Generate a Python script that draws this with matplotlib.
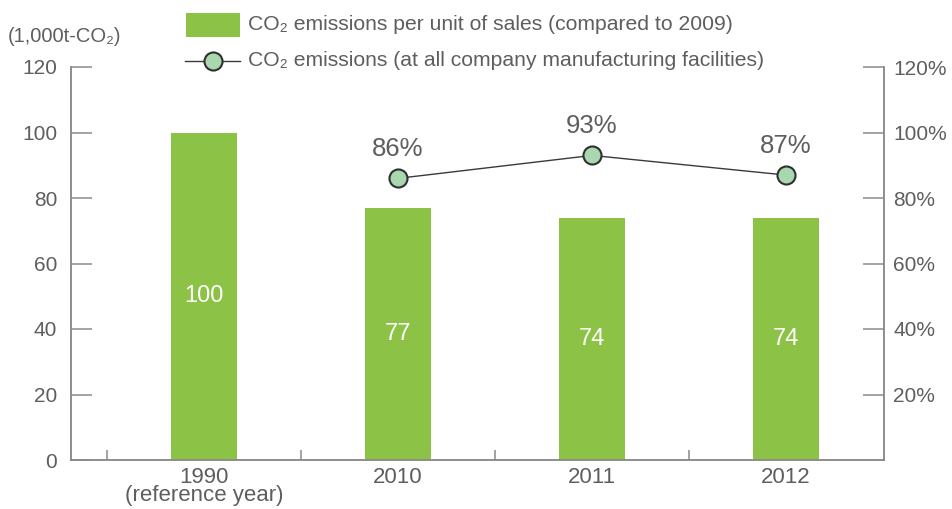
import matplotlib.pyplot as plt
from matplotlib.patches import Rectangle
from matplotlib.lines import Line2D

plt.rcParams['font.family'] = ['Liberation Sans', 'DejaVu Sans']

years = ["1990\n(reference year)", "2010", "2011", "2012"]
per_sales = [100, 77, 74, 74]
line_years = [1, 2, 3]
emissions_pct = [86, 93, 87]
left_ticks = [0, 20, 40, 60, 80, 100, 120]
right_ticks = [20, 40, 60, 80, 100, 120]

green = "#8cc346"
txt = "#5e5e5e"
axc = "#8a8a8a"

W, H = 953, 509
fig = plt.figure(figsize=(W / 100, H / 100), dpi=100)
ax = fig.add_axes([71 / W, 1 - 460 / H, (884 - 71) / W, (460 - 67) / H])
ax2 = ax.twinx()

x = list(range(len(years)))
ax.bar(x, per_sales, width=0.34, color=green, zorder=2)
for xi, v in zip(x, per_sales):
    ax.text(xi, v / 2, str(v), color="white", fontsize=17, ha="center", va="center", zorder=3)

ax2.plot(line_years, emissions_pct, color="#3a3a3a", lw=1.0, marker="o", ms=13,
         mfc="#a9d7b0", mec="#2f2f2f", mew=1.5, zorder=4)
for xi, v in zip(line_years, emissions_pct):
    ax2.annotate(f"{v}%", (xi, v), xytext=(0, 16), textcoords="offset points",
                 ha="center", va="baseline", fontsize=18.5, color=txt)

for a in (ax, ax2):
    a.set_xlim(-0.686, 3.505)
    a.set_ylim(0, 120)
    a.spines["top"].set_visible(False)
    for s in ("left", "right", "bottom"):
        a.spines[s].set_color(axc)
        a.spines[s].set_linewidth(1.1)

ax.set_yticks(left_ticks)
ax.tick_params(axis="y", direction="in", length=15, width=1.1, color=axc,
               labelsize=15, labelcolor=txt, pad=10)
ax2.set_yticks(right_ticks)
ax2.set_yticklabels([f"{t}%" for t in right_ticks])
ax2.tick_params(axis="y", direction="in", length=15, width=1.1, color=axc,
                labelsize=15, labelcolor=txt, pad=6.5)

ax.set_xticks(x)
ax.set_xticklabels(years, linespacing=0.82)
ax.set_xticks([i - 0.5 for i in x], minor=True)
ax.tick_params(axis="x", which="major", length=0, labelsize=16, labelcolor=txt, pad=5)
ax.tick_params(axis="x", which="minor", direction="in", length=7, width=1.1, color=axc)

fig.text(8 / W, 1 - 36 / H, "(1,000t-CO₂)", fontsize=14.5, color=txt, va="center", ha="left")

# legend
fig.add_artist(Rectangle((186 / W, 1 - 37 / H), 54 / W, 24 / H, transform=fig.transFigure,
                         facecolor=green, edgecolor="none"))
fig.add_artist(Line2D([185 / W, 240 / W], [1 - 61 / H, 1 - 61 / H], transform=fig.transFigure,
                      color="#3a3a3a", lw=1.0))
fig.add_artist(Line2D([213 / W], [1 - 61 / H], transform=fig.transFigure, marker="o", ms=13,
                      mfc="#a9d7b0", mec="#2f2f2f", mew=1.5))
fig.text(248 / W, 1 - 25 / H, "CO₂ emissions per unit of sales (compared to 2009)",
         fontsize=15.2, color=txt, va="center", ha="left")
fig.text(248 / W, 1 - 61 / H, "CO₂ emissions (at all company manufacturing facilities)",
         fontsize=15.2, color=txt, va="center", ha="left")

fig.savefig("out.png", dpi=100)
